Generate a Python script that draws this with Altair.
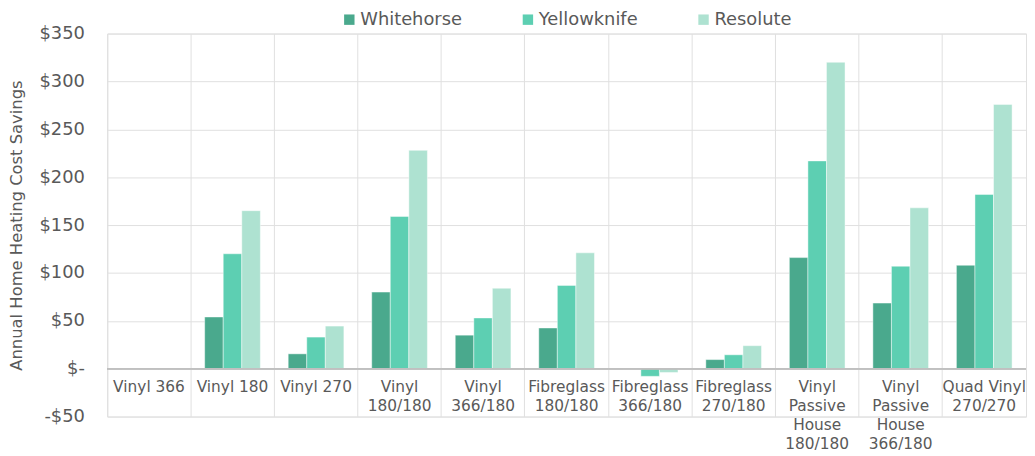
import altair as alt
import pandas as pd

categories = ["Vinyl 366", "Vinyl 180", "Vinyl 270", "Vinyl\n180/180", "Vinyl\n366/180",
              "Fibreglass\n180/180", "Fibreglass\n366/180", "Fibreglass\n270/180",
              "Vinyl\nPassive\nHouse\n180/180", "Vinyl\nPassive\nHouse\n366/180",
              "Quad Vinyl\n270/270"]
cities = ["Whitehorse", "Yellowknife", "Resolute"]
whitehorse = [0, 54, 15.5, 80, 35, 42.5, 0, 9.5, 116, 68.5, 108]
yellowknife = [0, 120, 33, 159, 53, 87, -8, 14.5, 217, 107, 182]
resolute = [0, 165, 44.5, 228, 84, 121, -4, 24, 320, 168, 276]
colors = ["#4aa98d", "#5dcfb2", "#aee2d1"]
y_ticks = [-50, 0, 50, 100, 150, 200, 250, 300, 350]

rows = []
for city, vals in zip(cities, [whitehorse, yellowknife, resolute]):
    for c, v in zip(categories, vals):
        rows.append({"category": c, "city": city, "value": v})
df = pd.DataFrame(rows)
cat_df = pd.DataFrame({"category": categories})

FONT = "DejaVu Sans"
GRAY = "#595959"

xscale = alt.Scale(domain=categories, paddingInner=0, paddingOuter=0)
yscale = alt.Scale(domain=[-50, 350], nice=False)

bars = alt.Chart(df).mark_bar(stroke="white", strokeOpacity=0.45, strokeWidth=1).encode(
    x=alt.X("category:N", sort=categories, scale=xscale,
            axis=alt.Axis(title=None, labels=False, ticks=False, domain=False,
                          grid=True, bandPosition=0, gridColor="#e0e0e0")),
    xOffset=alt.XOffset("city:N", sort=cities,
                        scale=alt.Scale(domain=cities, paddingOuter=0.75, paddingInner=0)),
    y=alt.Y("value:Q", scale=yscale,
            axis=alt.Axis(title="Annual Home Heating Cost Savings", values=y_ticks,
                          ticks=False, domain=False, grid=True, gridColor="#e0e0e0",
                          labelFontSize=18, labelColor=GRAY, labelFont=FONT, labelPadding=23,
                          titleFontSize=16.5, titleColor=GRAY, titleFont=FONT,
                          titleFontWeight="normal", titlePadding=15,
                          labelExpr="datum.value == 0 ? '$-\u2007' : (datum.value < 0 ? '-$' + abs(datum.value) : '$' + datum.value)")),
    color=alt.Color("city:N", sort=cities, scale=alt.Scale(domain=cities, range=colors),
                    legend=alt.Legend(title=None, orient="none", direction="horizontal",
                                      legendX=235, legendY=-23, symbolType="square",
                                      symbolSize=110, symbolStrokeWidth=0,
                                      labelFontSize=18, labelColor=GRAY, labelFont=FONT,
                                      columnPadding=57, labelOffset=2)),
)

zero = alt.Chart(cat_df).mark_rule(color="#bfbfbf", strokeWidth=1).encode(
    y=alt.datum(0, scale=yscale)
)

labels = alt.Chart(cat_df).mark_text(
    baseline="top", align="center", dy=12, fontSize=15.5, font=FONT, color=GRAY,
    lineBreak="\n", lineHeight=19
).encode(
    x=alt.X("category:N", sort=categories, scale=xscale),
    y=alt.datum(0, scale=yscale),
    text="category:N",
)

chart = alt.layer(bars, zero, labels).properties(
    width=926, height=386,
    autosize=alt.AutoSizeParams(type="none"),
    padding={"left": 100, "top": 24, "right": 1, "bottom": 38},
).configure_view(stroke="#e0e0e0")

chart.save("out.html", embed_options={"renderer": "svg", "actions": False})
